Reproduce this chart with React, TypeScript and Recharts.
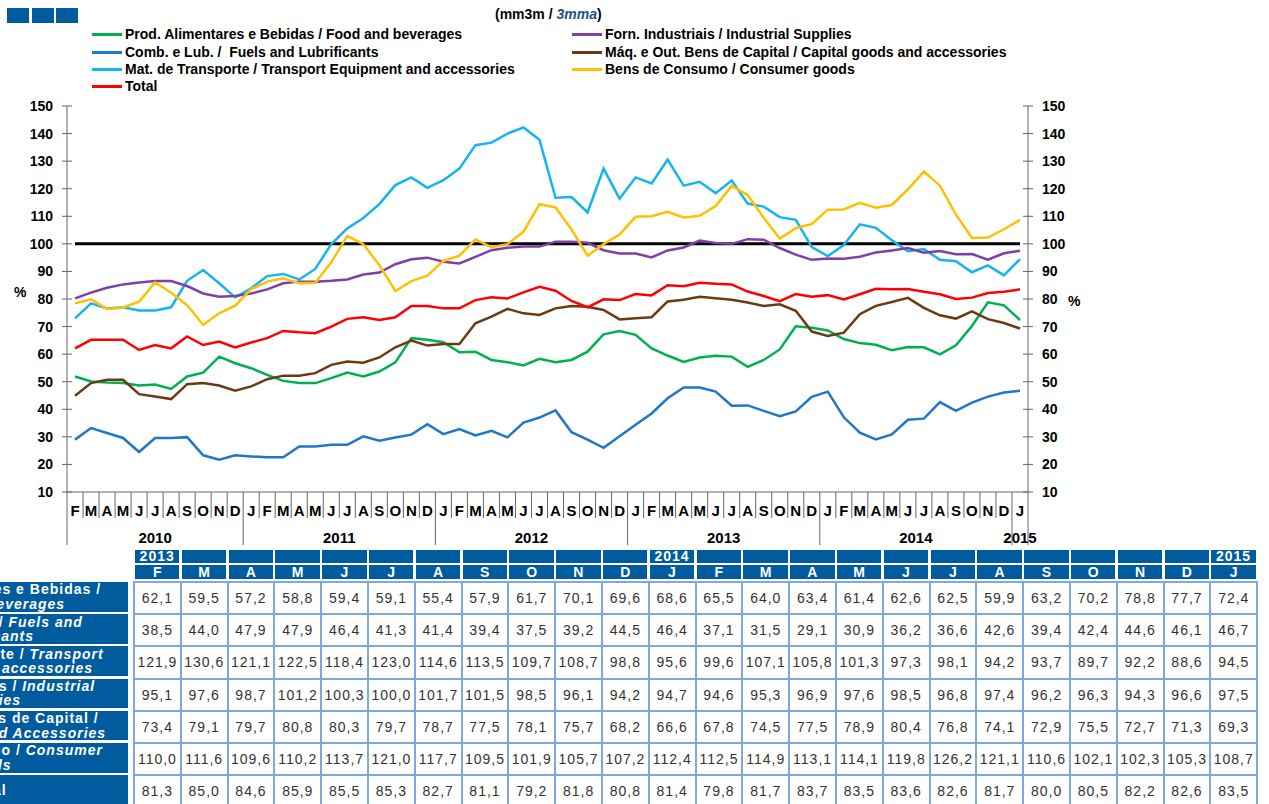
import React from "react";
import { LineChart, Line, XAxis, YAxis, ReferenceLine } from "recharts";

// categories: Feb 2010 .. Jan 2015
const START_YEAR = 2010;
const START_MONTH = 2;
const MONTH_COUNT = 60;
const monthLetters = ["J", "F", "M", "A", "M", "J", "J", "A", "S", "O", "N", "D"];

const periods = Array.from({ length: MONTH_COUNT }, (_, i) => {
  const m = START_MONTH - 1 + i;
  const year = START_YEAR + Math.floor(m / 12);
  return { key: `${year}-${(m % 12) + 1}`, year, mi: m % 12, month: monthLetters[m % 12] };
});

const yTicks = [10, 20, 30, 40, 50, 60, 70, 80, 90, 100, 110, 120, 130, 140, 150];

const food = [
  51.9, 50.1, 49.7, 49.5, 48.6, 49.0, 47.4, 51.9, 53.3, 59.1, 56.7,
  54.9, 52.5, 50.3, 49.5, 49.5, 51.3, 53.3, 51.9, 53.7, 57.0, 65.8, 65.2,
  64.3, 60.7, 60.9, 57.9, 57.1, 55.9, 58.3, 57.1, 57.9, 60.9, 67.2, 68.4,
  67.0, 62.1, 59.5, 57.2, 58.8, 59.4, 59.1, 55.4, 57.9, 61.7, 70.1, 69.6,
  68.6, 65.5, 64.0, 63.4, 61.4, 62.6, 62.5, 59.9, 63.2, 70.2, 78.8, 77.7,
  72.4,
];
const fuels = [
  29.0, 33.2, 31.4, 29.6, 24.5, 29.6, 29.6, 29.9, 23.3, 21.7, 23.3,
  22.9, 22.6, 22.6, 26.5, 26.5, 27.1, 27.1, 30.2, 28.6, 29.8, 30.8, 34.6,
  31.0, 32.8, 30.5, 32.2, 29.8, 35.2, 37.0, 39.6, 31.7, 29.0, 26.0, 30.2,
  34.4, 38.5, 44.0, 47.9, 47.9, 46.4, 41.3, 41.4, 39.4, 37.5, 39.2, 44.5,
  46.4, 37.1, 31.5, 29.1, 30.9, 36.2, 36.6, 42.6, 39.4, 42.4, 44.6, 46.1,
  46.7,
];
const transport = [
  73.0, 78.4, 76.6, 77.0, 75.8, 75.8, 77.0, 86.6, 90.5, 85.7, 80.6,
  83.9, 88.3, 89.1, 87.1, 90.9, 99.9, 105.6, 109.4, 114.4, 121.3, 124.1, 120.3,
  123.1, 127.3, 135.8, 136.7, 140.0, 142.2, 137.8, 116.7, 117.0, 111.4, 127.3, 116.4,
  124.1, 121.9, 130.6, 121.1, 122.5, 118.4, 123.0, 114.6, 113.5, 109.7, 108.7, 98.8,
  95.6, 99.6, 107.1, 105.8, 101.3, 97.3, 98.1, 94.2, 93.7, 89.7, 92.2, 88.6,
  94.5,
];
const industrial = [
  80.2, 82.3, 84.1, 85.3, 86.0, 86.5, 86.5, 84.7, 82.0, 80.8, 81.1,
  82.0, 83.5, 85.7, 86.3, 86.3, 86.6, 87.1, 88.9, 89.6, 92.6, 94.4, 95.0,
  93.5, 92.9, 95.3, 97.7, 98.6, 99.0, 99.0, 100.8, 100.8, 100.4, 97.7, 96.5,
  96.5, 95.1, 97.6, 98.7, 101.2, 100.3, 100.0, 101.7, 101.5, 98.5, 96.1, 94.2,
  94.7, 94.6, 95.3, 96.9, 97.6, 98.5, 96.8, 97.4, 96.2, 96.3, 94.3, 96.6,
  97.5,
];
const capital = [
  44.9, 49.5, 50.7, 50.7, 45.5, 44.6, 43.7, 49.1, 49.5, 48.6, 46.7,
  48.3, 50.9, 52.2, 52.2, 53.1, 56.1, 57.3, 56.9, 58.8, 62.5, 64.9, 63.1,
  63.7, 63.7, 71.2, 73.6, 76.4, 74.8, 74.2, 76.6, 77.5, 77.2, 76.0, 72.6,
  73.0, 73.4, 79.1, 79.7, 80.8, 80.3, 79.7, 78.7, 77.5, 78.1, 75.7, 68.2,
  66.6, 67.8, 74.5, 77.5, 78.9, 80.4, 76.8, 74.1, 72.9, 75.5, 72.7, 71.3,
  69.3,
];
const consumer = [
  78.4, 79.9, 76.4, 76.9, 79.0, 86.0, 82.3, 77.8, 70.6, 74.8, 77.6,
  83.6, 86.3, 87.5, 85.7, 85.9, 93.3, 102.9, 99.9, 92.3, 82.9, 86.5, 88.5,
  93.8, 95.7, 101.6, 98.8, 99.9, 104.4, 114.4, 113.2, 105.2, 95.7, 99.9, 103.4,
  109.8, 110.0, 111.6, 109.6, 110.2, 113.7, 121.0, 117.7, 109.5, 101.9, 105.7, 107.2,
  112.4, 112.5, 114.9, 113.1, 114.1, 119.8, 126.2, 121.1, 110.6, 102.1, 102.3, 105.3,
  108.7,
];
const total = [
  62.1, 65.2, 65.2, 65.2, 61.5, 63.3, 62.1, 66.4, 63.3, 64.6, 62.4,
  64.2, 65.8, 68.4, 67.9, 67.6, 70.0, 72.8, 73.4, 72.4, 73.4, 77.5, 77.5,
  76.6, 76.6, 79.6, 80.6, 80.2, 82.4, 84.4, 83.0, 79.3, 77.0, 79.9, 79.6,
  81.8, 81.3, 85.0, 84.6, 85.9, 85.5, 85.3, 82.7, 81.1, 79.2, 81.8, 80.8,
  81.4, 79.8, 81.7, 83.7, 83.5, 83.6, 82.6, 81.7, 80.0, 80.5, 82.2, 82.6,
  83.5,
];

type Series = {
  key: string;
  name: string;
  color: string;
  values: number[];
  label: [string, string][]; // table label lines: [plain, italic]
};

const series: Series[] = [
  { key: "food", name: "Prod. Alimentares e Bebidas / Food and beverages", color: "#00b050", values: food,
    label: [["Prod. Alimentares e Bebidas /", ""], ["", "Food and beverages"]] },
  { key: "fuels", name: "Comb. e Lub. /  Fuels and Lubrificants", color: "#1f77c8", values: fuels,
    label: [["Comb. e Lub. / ", "Fuels and"], ["", "Lubrificants"]] },
  { key: "transport", name: "Mat. de Transporte / Transport Equipment and accessories", color: "#14b4ee", values: transport,
    label: [["Mat. de Transporte / ", "Transport"], ["", "Equipment and accessories"]] },
  { key: "industrial", name: "Forn. Industriais / Industrial Supplies", color: "#7f3fa8", values: industrial,
    label: [["Forn. Industriais / ", "Industrial"], ["", "Supplies"]] },
  { key: "capital", name: "Máq. e Out. Bens de Capital / Capital goods and accessories", color: "#6b3a12", values: capital,
    label: [["Máq. e Out. Bens de Capital /", ""], ["", "Capital goods and Accessories"]] },
  { key: "consumer", name: "Bens de Consumo / Consumer goods", color: "#ffc000", values: consumer,
    label: [["Bens de Consumo / ", "Consumer"], ["", "goods"]] },
  { key: "total", name: "Total", color: "#ff0000", values: total, label: [["Total", ""]] },
];

const legendCols = [
  ["food", "fuels", "transport", "total"],
  ["industrial", "capital", "consumer"],
];

const data = periods.map((p, i) => {
  const row: Record<string, string | number> = { key: p.key };
  series.forEach((s) => (row[s.key] = s.values[i]));
  return row;
});

const FONT = "'Liberation Sans', Arial, sans-serif";
const BLUE = "#005b9f";
const GRID_BLUE = "#7ea7dc";
const W = 1269;
const CHART_H = 560;
const PLOT_LEFT = 67;
const PLOT_RIGHT = 1028;
const PLOT_TOP = 106;
const PLOT_BOTTOM = 492;
const BAND = (PLOT_RIGHT - PLOT_LEFT) / MONTH_COUNT;

function MonthTick(props: any) {
  const { x, y, payload } = props;
  const i = periods.findIndex((p) => p.key === payload.value);
  if (i < 0) return null;
  const p = periods[i];
  const left = x - BAND / 2;
  const yearStart = i === 0 || periods[i - 1].year !== p.year;
  const count = periods.filter((q) => q.year === p.year).length;
  return (
    <g>
      <line x1={left} x2={left} y1={y} y2={y + (yearStart ? 53 : 26)} stroke="#666" strokeWidth={1} />
      {i === periods.length - 1 && (
        <line x1={x + BAND / 2} x2={x + BAND / 2} y1={y} y2={y + 53} stroke="#666" strokeWidth={1} />
      )}
      <text x={x} y={y + 18} textAnchor="middle" dominantBaseline="central" fontSize={15} fontWeight="bold" fontFamily={FONT} fill="#000">
        {p.month}
      </text>
      {yearStart && (
        <text x={left + (count * BAND) / 2} y={y + 45} textAnchor="middle" dominantBaseline="central" fontSize={15} fontWeight="bold" fontFamily={FONT} fill="#000">
          {p.year}
        </text>
      )}
    </g>
  );
}

function ValueTick(props: any) {
  const { y, payload, side } = props;
  const ax = side === "left" ? PLOT_LEFT : PLOT_RIGHT;
  return (
    <g>
      <line x1={ax - 5} x2={ax + 5} y1={y} y2={y} stroke="#666" strokeWidth={1} />
      <text
        x={side === "left" ? ax - 14 : ax + 14}
        y={y}
        textAnchor={side === "left" ? "end" : "start"}
        dominantBaseline="central"
        fontSize={14}
        fontWeight="bold"
        fontFamily={FONT}
        fill="#000"
      >
        {payload.value}
      </text>
    </g>
  );
}

const fmt = (v: number) => v.toFixed(1).replace(".", ",");

const TABLE_MONTHS = 24;
const COL_X = 133;
const COL_W = 46.8;
const ROW_Y = 581;
const ROW_H = 32.2;

function DataTable() {
  const start = periods.length - TABLE_MONTHS;
  const cols = periods.slice(start);
  const cells: React.ReactNode[] = [];
  cols.forEach((p, c) => {
    const left = COL_X + 2 + c * COL_W;
    const showYear = c === 0 || p.mi === 0;
    cells.push(
      <div key={`y${c}`} style={{ position: "absolute", left, top: 550, width: COL_W - 2.4, height: 13, background: BLUE, color: "#fff", fontSize: 14, fontWeight: "bold", lineHeight: "13px", textAlign: "center", letterSpacing: 1 }}>
        {showYear ? p.year : ""}
      </div>,
      <div key={`m${c}`} style={{ position: "absolute", left, top: 565, width: COL_W - 2.4, height: 14, background: BLUE, color: "#fff", fontSize: 14, fontWeight: "bold", lineHeight: "14px", textAlign: "center" }}>
        {p.month}
      </div>
    );
  });
  series.forEach((s, r) => {
    const top = ROW_Y + r * ROW_H;
    cells.push(
      <div key={`l${r}`} style={{ position: "absolute", left: 0, top: top + 1, width: 128, height: ROW_H - 2.5, background: BLUE, overflow: "hidden" }}>
        <div style={{ position: "absolute", left: -152, width: 280, top: 0, height: "100%", display: "flex", flexDirection: "column", justifyContent: "center", alignItems: "center", color: "#fff", fontSize: 14, fontWeight: "bold", letterSpacing: 1, lineHeight: "14.5px", whiteSpace: "pre" }}>
          {s.label.map(([plain, ital], k) => (
            <div key={k}>
              {plain}
              <span style={{ fontStyle: "italic" }}>{ital}</span>
            </div>
          ))}
        </div>
      </div>
    );
    cols.forEach((_, c) => {
      const last = c === cols.length - 1;
      cells.push(
        <div key={`c${r}-${c}`} style={{ position: "absolute", left: COL_X + c * COL_W, top, width: COL_W + (last ? 2 : 0), height: ROW_H, boxSizing: "border-box", borderLeft: `2px solid ${GRID_BLUE}`, borderTop: `2px solid ${GRID_BLUE}`, borderRight: last ? `2px solid ${GRID_BLUE}` : undefined, background: "#fff", color: "#333", fontSize: 14, letterSpacing: 1, display: "flex", alignItems: "center", justifyContent: "center" }}>
          {fmt(s.values[start + c])}
        </div>
      );
    });
  });
  return <>{cells}</>;
}

function LegendBlock() {
  const xs = [{ line: 92, text: 125 }, { line: 572, text: 605 }];
  const ys = [34, 52, 69, 86];
  return (
    <>
      {legendCols.map((col, ci) =>
        col.map((k, ri) => {
          const s = series.find((q) => q.key === k)!;
          return (
            <div key={k} style={{ position: "absolute", left: xs[ci].line, top: ys[ri] - 9, height: 18, display: "flex", alignItems: "center", whiteSpace: "pre", fontSize: 14, fontWeight: "bold", color: "#000" }}>
              <div style={{ width: 30, height: 3, background: s.color, marginRight: xs[ci].text - xs[ci].line - 30 }} />
              {s.name}
            </div>
          );
        })
      )}
    </>
  );
}

export default function App() {
  return (
    <div style={{ position: "absolute", left: 0, top: 0, width: W, height: 804, overflow: "hidden", background: "#fff", fontFamily: FONT }}>
      {[7, 32, 56].map((x) => (
        <div key={x} style={{ position: "absolute", left: x, top: 8, width: 22, height: 15, background: BLUE }} />
      ))}
      <div style={{ position: "absolute", left: 495, top: 6, fontSize: 14, fontWeight: "bold", color: "#000", whiteSpace: "pre" }}>
        (mm3m / <span style={{ fontStyle: "italic", color: "#1f4e8c" }}>3mma</span>)
      </div>
      <LegendBlock />
      <div style={{ position: "absolute", left: 0, top: 0 }}>
        <LineChart width={W} height={CHART_H} data={data} margin={{ top: PLOT_TOP, right: 0, bottom: 0, left: 0 }}>
          <XAxis
            dataKey="key"
            height={CHART_H - PLOT_BOTTOM}
            interval={0}
            padding={{ left: BAND / 2, right: BAND / 2 }}
            tickLine={false}
            tickSize={0}
            tickMargin={0}
            axisLine={{ stroke: "#666" }}
            tick={<MonthTick />}
          />
          <YAxis
            yAxisId="l"
            orientation="left"
            width={PLOT_LEFT}
            domain={[10, 150]}
            ticks={yTicks}
            allowDataOverflow
            tickLine={false}
            axisLine={{ stroke: "#666" }}
            tick={<ValueTick side="left" />}
            label={{ value: "%", position: "insideLeft", offset: 14, dy: -7, style: { fontSize: 14, fontWeight: "bold", fill: "#000", fontFamily: FONT } }}
          />
          <YAxis
            yAxisId="r"
            orientation="right"
            width={W - PLOT_RIGHT}
            domain={[10, 150]}
            ticks={yTicks}
            allowDataOverflow
            tickLine={false}
            axisLine={{ stroke: "#666" }}
            tick={<ValueTick side="right" />}
            label={{ value: "%", position: "insideLeft", offset: 40, dy: 2, style: { fontSize: 14, fontWeight: "bold", fill: "#000", fontFamily: FONT } }}
          />
          <ReferenceLine
            yAxisId="l"
            segment={[
              { x: periods[0].key, y: 100 },
              { x: periods[periods.length - 1].key, y: 100 },
            ]}
            stroke="#000"
            strokeWidth={3}
          />
          {series.map((s) => (
            <Line
              key={s.key}
              yAxisId={s.key === "total" ? "r" : "l"}
              type="linear"
              dataKey={s.key}
              name={s.name}
              stroke={s.color}
              strokeWidth={2.5}
              dot={false}
              isAnimationActive={false}
            />
          ))}
        </LineChart>
      </div>
      <DataTable />
    </div>
  );
}
